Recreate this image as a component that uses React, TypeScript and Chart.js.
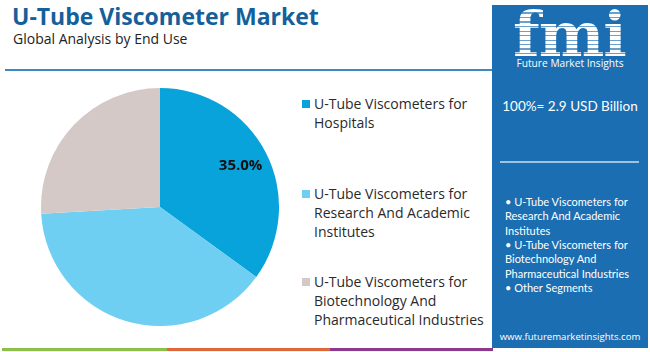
import React, { useEffect, useRef } from "react";
import { Chart, registerables } from "chart.js";

Chart.register(...registerables);

const categories = [
  "U-Tube Viscometers for Hospitals",
  "U-Tube Viscometers for Research And Academic Institutes",
  "U-Tube Viscometers for Biotechnology And Pharmaceutical Industries",
];
const legendLines = [
  ["U-Tube Viscometers for", "Hospitals"],
  ["U-Tube Viscometers for", "Research And Academic", "Institutes"],
  ["U-Tube Viscometers for", "Biotechnology And", "Pharmaceutical Industries"],
];
const shares = [35.0, 39.1, 25.9];
const sliceColors = ["#09a3dc", "#6fcff2", "#d4c9c6"];
const labelledIndex = 0;
const panelBullets = [
  ["• U-Tube Viscometers for", "Research And Academic", "Institutes"],
  ["• U-Tube Viscometers for", "Biotechnology And", "Pharmaceutical Industries"],
  ["• Other Segments"],
];
const totalText = "100%= 2.9 USD Billion";

const PANEL = "#1b6eb1";

function PieChart() {
  const ref = useRef<HTMLCanvasElement | null>(null);
  useEffect(() => {
    if (!ref.current) return;
    const labelPlugin = {
      id: "sliceLabel",
      afterDatasetsDraw(chart: any) {
        const meta = chart.getDatasetMeta(0);
        const arc = meta.data[labelledIndex] as any;
        if (!arc) return;
        const { x, y, startAngle, endAngle, outerRadius } = arc.getProps(
          ["x", "y", "startAngle", "endAngle", "outerRadius"],
          true
        );
        const mid = (startAngle + endAngle) / 2;
        const r = outerRadius * 0.76;
        const ctx = chart.ctx;
        ctx.save();
        ctx.font = "bold 15px 'Open Sans'";
        ctx.fillStyle = "#111";
        ctx.textAlign = "center";
        ctx.textBaseline = "middle";
        ctx.fillText(
          shares[labelledIndex].toFixed(1) + "%",
          x + Math.cos(mid) * r,
          y + Math.sin(mid) * r
        );
        ctx.restore();
      },
    };
    const chart = new Chart(ref.current, {
      type: "pie",
      data: {
        labels: categories,
        datasets: [
          {
            data: shares,
            backgroundColor: sliceColors,
            borderWidth: 0,
          },
        ],
      },
      options: {
        animation: false,
        responsive: false,
        layout: { padding: 0 },
        plugins: { legend: { display: false }, tooltip: { enabled: false } },
      },
      plugins: [labelPlugin],
    });
    return () => chart.destroy();
  }, []);
  return (
    <canvas
      ref={ref}
      width={238}
      height={238}
      style={{ position: "absolute", left: 41, top: 88, width: 238, height: 238 }}
    />
  );
}

export default function App() {
  const abs = (s: React.CSSProperties): React.CSSProperties => ({ position: "absolute", ...s });
  return (
    <div
      style={{
        position: "fixed",
        left: 0,
        top: 0,
        width: 650,
        height: 352,
        background: "#ffffff",
        overflow: "hidden",
        fontFamily: "'Open Sans', sans-serif",
      }}
    >
      <div
        style={abs({
          left: 12,
          top: 1,
          fontSize: 23,
          fontWeight: 700,
          color: "#14609a",
          whiteSpace: "nowrap",
          lineHeight: "30px",
        })}
      >
        U-Tube Viscometer Market
      </div>
      <div style={abs({ left: 13, top: 29, fontSize: 14, color: "#222", whiteSpace: "nowrap", lineHeight: "20px" })}>
        Global Analysis by End Use
      </div>
      <div style={abs({ left: 5, top: 69, width: 490, height: 2, background: "#3f89c2" })} />

      <PieChart />

      {legendLines.map((lines, i) => {
        const tops = [94, 184, 272];
        return (
          <div key={i} style={abs({ left: 302, top: tops[i] })}>
            <div style={abs({ left: 0, top: 6, width: 8, height: 8, background: sliceColors[i] })} />
            {lines.map((t, j) => (
              <div
                key={j}
                style={abs({
                  left: 12,
                  top: j * 19,
                  fontSize: 14,
                  color: "#2a2a2a",
                  whiteSpace: "nowrap",
                  lineHeight: "19px",
                })}
              >
                {t}
              </div>
            ))}
          </div>
        );
      })}

      <div style={abs({ left: 2, top: 348, width: 165, height: 3, background: "#8cc04e" })} />
      <div style={abs({ left: 167, top: 348, width: 163, height: 3, background: "#e0663b" })} />
      <div style={abs({ left: 330, top: 348, width: 163, height: 3, background: "#8c3a90" })} />

      <div style={abs({ left: 492, top: 5, width: 156, height: 343, background: PANEL })}>
        <div
          style={abs({
            left: 21,
            top: 0,
            width: 125,
            fontFamily: "'DejaVu Serif', serif",
            fontWeight: 700,
            fontSize: 62,
            lineHeight: "60px",
            letterSpacing: -1,
            backgroundImage:
              "repeating-linear-gradient(to bottom, #ffffff 0px, #ffffff 3px, rgba(255,255,255,0.35) 3px, rgba(255,255,255,0.35) 4.5px)",
            WebkitBackgroundClip: "text",
            backgroundClip: "text",
            color: "transparent",
            whiteSpace: "nowrap",
          })}
        >
          fmi
        </div>
        <div
          style={abs({
            left: 0,
            top: 51,
            width: 156,
            textAlign: "center",
            fontSize: 10.2,
            color: "#ffffff",
            whiteSpace: "nowrap",
            lineHeight: "14px",
          })}
        >
          Future Market Insights
        </div>
        <div
          style={abs({
            left: 0,
            top: 91,
            width: 156,
            textAlign: "center",
            fontFamily: "Lato, sans-serif",
            fontSize: 13.5,
            color: "#ffffff",
            whiteSpace: "nowrap",
            lineHeight: "20px",
          })}
        >
          {totalText}
        </div>
        <div style={abs({ left: 8, top: 156, width: 139, height: 2, background: "#9cc3e4" })} />
        {panelBullets.map((lines, i) => {
          const tops = [190, 233, 276];
          return lines.map((t, j) => (
            <div
              key={i + "-" + j}
              style={abs({
                left: 13,
                top: tops[i] + j * 14.3,
                fontFamily: "Lato, sans-serif",
                fontSize: 11,
                color: "#ffffff",
                whiteSpace: "nowrap",
                lineHeight: "14px",
              })}
            >
              {t}
            </div>
          ));
        })}
        <div
          style={abs({
            left: 0,
            top: 325,
            width: 156,
            textAlign: "center",
            fontSize: 9.6,
            color: "#ffffff",
            whiteSpace: "nowrap",
            lineHeight: "14px",
          })}
        >
          www.futuremarketinsights.com
        </div>
      </div>
    </div>
  );
}
